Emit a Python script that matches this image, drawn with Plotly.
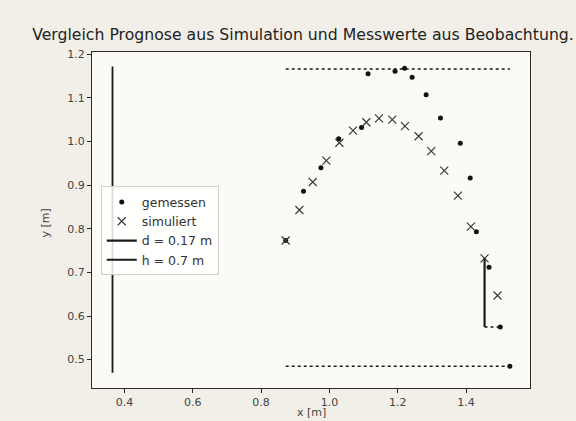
import plotly.graph_objects as go

# measured points (gemessen)
x_gem = [0.872, 0.924, 0.975, 1.027, 1.094, 1.113, 1.192, 1.220, 1.242, 1.283,
         1.325, 1.383, 1.412, 1.430, 1.467, 1.500, 1.528]
y_gem = [0.773, 0.886, 0.940, 1.006, 1.032, 1.155, 1.161, 1.168, 1.147, 1.107,
         1.054, 0.996, 0.916, 0.793, 0.712, 0.575, 0.485]

# simulated points (simuliert)
x_sim = [0.872, 0.912, 0.951, 0.991, 1.029, 1.069, 1.108, 1.145, 1.184, 1.221,
         1.261, 1.298, 1.336, 1.376, 1.414, 1.454, 1.492]
y_sim = [0.773, 0.843, 0.907, 0.956, 0.997, 1.025, 1.044, 1.053, 1.050, 1.035,
         1.012, 0.978, 0.933, 0.876, 0.805, 0.732, 0.647]

# d line (vertical, right) and its dotted connector
d_x = [1.454, 1.454]
d_y = [0.732, 0.575]
d_conn_x = [1.454, 1.500]
d_conn_y = [0.575, 0.575]

# h line (vertical, left)
h_x = [0.365, 0.365]
h_y = [0.470, 1.172]

# horizontal dotted reference lines
top_x = [0.872, 1.528]
top_y = [1.166, 1.166]
bot_x = [0.872, 1.528]
bot_y = [0.485, 0.485]

x_ticks = [0.4, 0.6, 0.8, 1.0, 1.2, 1.4]
y_ticks = [0.5, 0.6, 0.7, 0.8, 0.9, 1.0, 1.1, 1.2]

title_text = "Vergleich Prognose aus Simulation und Messwerte aus Beobachtung."

ink = "#2b2b2b"
fnt = "DejaVu Sans"
paper = "#f1efe7"

fig = go.Figure()
fig.add_trace(go.Scatter(x=x_gem, y=y_gem, mode="markers", name="gemessen",
                         marker=dict(symbol="circle", size=5, color="#111111")))
fig.add_trace(go.Scatter(x=x_sim, y=y_sim, mode="markers", name="simuliert",
                         marker=dict(symbol="x-thin", size=8,
                                     line=dict(width=1.2, color="#3a3a3a"))))
fig.add_trace(go.Scatter(x=d_x, y=d_y, mode="lines", name="d = 0.17 m",
                         line=dict(color="#1a1a1a", width=2.2)))
fig.add_trace(go.Scatter(x=h_x, y=h_y, mode="lines", name="h = 0.7 m",
                         line=dict(color="#1a1a1a", width=1.8)))
fig.add_trace(go.Scatter(x=d_conn_x, y=d_conn_y, mode="lines", showlegend=False,
                         line=dict(color="#1a1a1a", width=1.5, dash="dot")))
fig.add_trace(go.Scatter(x=top_x, y=top_y, mode="lines", showlegend=False,
                         line=dict(color="#1a1a1a", width=1.5, dash="dot")))
fig.add_trace(go.Scatter(x=bot_x, y=bot_y, mode="lines", showlegend=False,
                         line=dict(color="#1a1a1a", width=1.5, dash="dot")))

fig.update_layout(
    width=576, height=421,
    margin=dict(l=92, r=46, t=52, b=33),
    paper_bgcolor=paper,
    plot_bgcolor="#fbfaf5",
    font=dict(family=fnt, size=11, color="#444444"),
    title=dict(text=title_text, x=303 / 576, xanchor="center",
               y=1 - 35 / 421, yanchor="middle",
               font=dict(family=fnt, size=15.7, color="#222222")),
    showlegend=True,
    legend=dict(x=0.02, y=0.60, xanchor="left", yanchor="top",
                bgcolor="rgba(255,255,255,0.85)", bordercolor="#d0d0d0",
                borderwidth=1, font=dict(family=fnt, size=12.5, color="#333333"),
                tracegroupgap=0, itemwidth=30),
    annotations=[
        dict(text="x [m]", x=0.5, y=-0.072, xref="paper", yref="paper",
             xanchor="center", yanchor="middle", showarrow=False,
             font=dict(family=fnt, size=11, color="#444444")),
        dict(text="y [m]", x=-0.107, y=0.49, xref="paper", yref="paper",
             xanchor="center", yanchor="middle", showarrow=False, textangle=-90,
             font=dict(family=fnt, size=11, color="#444444")),
    ],
)

fig.update_xaxes(range=[0.305, 1.587], tickvals=x_ticks,
                 ticktext=[f"{v:.1f}" for v in x_ticks],
                 showgrid=False, zeroline=False, showline=True, linecolor=ink,
                 linewidth=1, mirror=True, ticks="outside", ticklen=4,
                 tickcolor=ink, automargin=False)
fig.update_yaxes(range=[0.435, 1.205], tickvals=y_ticks,
                 ticktext=[f"{v:.1f}" for v in y_ticks],
                 showgrid=False, zeroline=False, showline=True, linecolor=ink,
                 linewidth=1, mirror=True, ticks="outside", ticklen=4,
                 tickcolor=ink, automargin=False)

fig.write_html(
    "out.html",
    config={"displayModeBar": False},
    post_script="document.body.style.margin='0px';"
                "document.body.style.background='" + paper + "';",
)
